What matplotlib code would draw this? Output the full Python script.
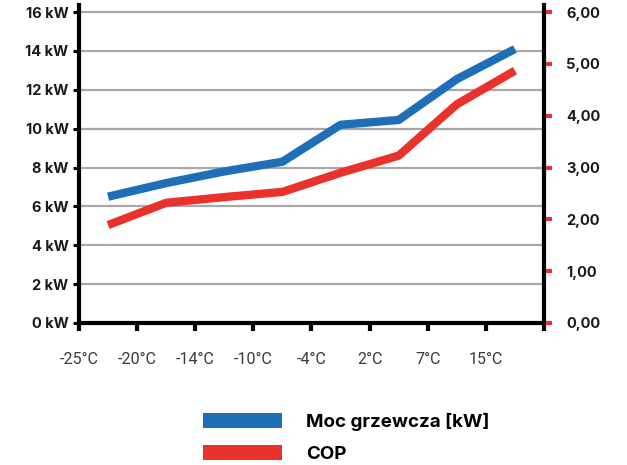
import matplotlib
matplotlib.use("Agg")
import matplotlib.pyplot as plt
from matplotlib.patches import Patch

# temperatures on the x axis
temps = ["-25°C", "-20°C", "-14°C", "-10°C", "-4°C", "2°C", "7°C", "15°C"]
# heating power, kW (left axis)
power_kw = [6.5, 7.2, 7.8, 8.3, 10.2, 10.45, 12.55, 14.1]
# COP (right axis)
cop = [1.89, 2.32, 2.43, 2.53, 2.90, 3.23, 4.22, 4.87]

kw_ticks = [0, 2, 4, 6, 8, 10, 12, 14, 16]
cop_ticks = [0, 1, 2, 3, 4, 5, 6]

blue = "#1f6fb8"
red = "#e8322b"

fig = plt.figure(figsize=(6.27, 4.65), dpi=100)
ax = fig.add_axes([0.126, 0.3054, 0.7416, 0.6836])
ax2 = ax.twinx()

xs = [i + 0.5 for i in range(len(temps))]

# grid lines
for v in kw_ticks[1:]:
    ax.axhline(v, color="#a8a8a8", lw=1.6, zorder=1)

ax.plot(xs, power_kw, color=blue, lw=6, solid_capstyle="butt", zorder=3)
ax2.plot(xs, cop, color=red, lw=6, solid_capstyle="butt", zorder=3)

ax.set_xlim(0, 8)
ax.set_ylim(0, 16.36)
ax2.set_ylim(0, 6.135)

bold = dict(family="Inter", weight="bold", size=10.5, color="#1a1a1a")

ax.set_yticks(kw_ticks)
ax.set_yticklabels([f"{v} kW" for v in kw_ticks], fontdict=bold)
ax.tick_params(axis="y", length=4.5, width=2.2, color="black", pad=3)

ax.set_xticks(range(9))
ax.set_xticklabels(temps + [""], family="Roboto", weight="normal", size=11.5, color="#3a3a3a")
ax.tick_params(axis="x", length=6, width=3, color="black", pad=15)

ax2.set_yticks(cop_ticks)
ax2.set_yticklabels([f"{v},00" for v in cop_ticks], fontdict=bold)
ax2.tick_params(axis="y", length=6, width=3, color=red, pad=10)

for a in (ax, ax2):
    for s in a.spines.values():
        s.set_linewidth(3)
        s.set_color("black")
    a.spines["top"].set_visible(False)
ax.spines["right"].set_visible(False)
ax2.spines["left"].set_visible(False)
ax2.spines["bottom"].set_visible(False)
ax.spines["bottom"].set_zorder(4)

handles = [Patch(facecolor=blue, edgecolor="none"), Patch(facecolor=red, edgecolor="none")]
fig.legend(handles, ["Moc grzewcza [kW]", "COP"], loc="upper left",
           bbox_to_anchor=(0.324, 0.112), frameon=False,
           prop=dict(family="Inter", weight="bold", size=13.5),
           handlelength=4.2, handleheight=0.9, handletextpad=1.28,
           labelspacing=0.72, borderaxespad=0, borderpad=0)

fig.savefig("out.png", dpi=100, facecolor="white")
